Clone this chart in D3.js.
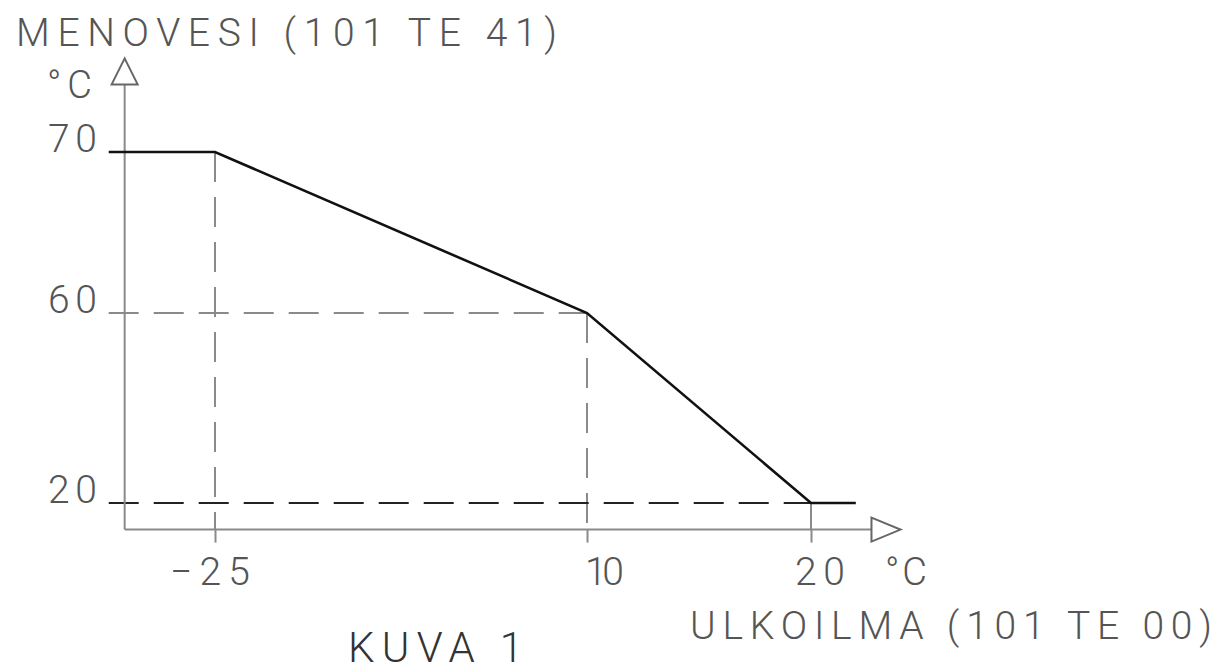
<!DOCTYPE html>
<html>
<head>
<meta charset="utf-8">
<script src="https://cdn.jsdelivr.net/npm/d3@7/dist/d3.min.js"></script>
<style>
  html, body { margin: 0; padding: 0; background: #fff; }
  svg { display: block; }
  text { font-family: "Roboto", "Lato", "DejaVu Sans", sans-serif; font-weight: 300; }
</style>
</head>
<body>
<svg id="chart" width="1222" height="672"></svg>
<script>
// Heating curve: supply water temperature vs. outdoor temperature
const outdoorTicks = [-25, 10, 20];        // ULKOILMA break points (°C)
const supplyTicks = [70, 60, 20];          // MENOVESI levels (°C)
const curveOutdoor = [-35, -25, 10, 20, 22];
const curveSupply = [70, 70, 60, 20, 20];
const xAxisExtent = [-33.5, 22.7];         // axis origin .. arrow base
const yAxisExtent = [14.4, 74.2];
const titleText = "MENOVESI (101 TE 41)";
const xTitleText = "ULKOILMA (101 TE 00)";
const unitText = "°C";
const captionText = "KUVA 1";

const svg = d3.select("#chart");

// Schematic (piecewise) scales through the break points
const x = d3.scaleLinear().domain([-25, 10, 20]).range([215, 587, 811]);
const y = d3.scaleLinear().domain([20, 60, 70]).range([503, 313, 152]);

const x0 = x(xAxisExtent[0]), x1 = x(xAxisExtent[1]);
const y0 = y(yAxisExtent[0]), y1 = y(yAxisExtent[1]);
const axisColor = "#8a8a8a";
const textColor = "#555";

// Guide lines (dashed)
const dash = "30,15";
// vertical guides from each break point down through the x axis
svg.append("g").selectAll("line")
  .data(outdoorTicks.map((v, i) => ({ v, s: curveSupply[i + 1] })))
  .join("line")
  .attr("x1", d => x(d.v)).attr("x2", d => x(d.v))
  .attr("y1", d => y(d.s)).attr("y2", y0)
  .attr("stroke", axisColor).attr("stroke-width", 2)
  .attr("stroke-dasharray", dash);

// horizontal guides for 60 and 20
svg.append("line")
  .attr("x1", x(curveOutdoor[0])).attr("x2", x(10))
  .attr("y1", y(60)).attr("y2", y(60))
  .attr("stroke", axisColor).attr("stroke-width", 2)
  .attr("stroke-dasharray", dash);
svg.append("line")
  .attr("x1", x(curveOutdoor[0])).attr("x2", x(20))
  .attr("y1", y(20)).attr("y2", y(20))
  .attr("stroke", "#222").attr("stroke-width", 2)
  .attr("stroke-dasharray", dash);

// x axis ticks below the axis line
const xAxis = d3.axisBottom(x).tickValues(outdoorTicks).tickSize(13).tickFormat("");
const gx = svg.append("g").attr("transform", `translate(0,${y0})`).call(xAxis);
gx.select(".domain").remove();
gx.selectAll(".tick line").attr("stroke", axisColor).attr("stroke-width", 2);

// Axis lines
svg.append("line").attr("x1", x0).attr("x2", x1).attr("y1", y0).attr("y2", y0)
  .attr("stroke", axisColor).attr("stroke-width", 2);
svg.append("line").attr("x1", x0).attr("x2", x0).attr("y1", y0).attr("y2", y1)
  .attr("stroke", axisColor).attr("stroke-width", 2);

// Open arrow heads
svg.append("path")
  .attr("d", `M${x1},${y0 - 12}L${x1 + 29},${y0}L${x1},${y0 + 12}Z`)
  .attr("fill", "#fff").attr("stroke", "#666").attr("stroke-width", 2);
svg.append("path")
  .attr("d", `M${x0 - 13},${y1}L${x0},${y1 - 26}L${x0 + 13},${y1}Z`)
  .attr("fill", "#fff").attr("stroke", "#666").attr("stroke-width", 2);

// Heating curve
const line = d3.line().x(d => x(d[0])).y(d => y(d[1]));
svg.append("path")
  .datum(d3.zip(curveOutdoor, curveSupply))
  .attr("d", line)
  .attr("fill", "none").attr("stroke", "#111").attr("stroke-width", 2.6)
  .attr("stroke-linejoin", "miter");

// Text helper: left-aligned with fixed width
function label(txt, xs, xe, base, size, color) {
  svg.append("text")
    .attr("x", xs).attr("y", base)
    .attr("font-size", size)
    .attr("fill", color || textColor)
    .attr("textLength", xe - xs)
    .attr("lengthAdjust", "spacing")
    .text(txt);
}

label(titleText, 16, 557, 46, 39);
label(unitText, 47, 92, 98, 38);

// y tick labels
supplyTicks.forEach(v => label(String(v), 48, 97, y(v), 39));

// x tick labels
const xLabelSpans = { "-25": [170, 250], "10": [585, 624], "20": [795, 845] };
outdoorTicks.forEach(v => {
  const s = xLabelSpans[String(v)];
  label(v < 0 ? "\u2212" + Math.abs(v) : String(v), s[0], s[1], 585, 39);
});
label(unitText, 885, 927, 585, 38);

label(xTitleText, 690, 1212, 639, 39);
label(captionText, 348, 523, 662, 42, "#333");
</script>
</body>
</html>
